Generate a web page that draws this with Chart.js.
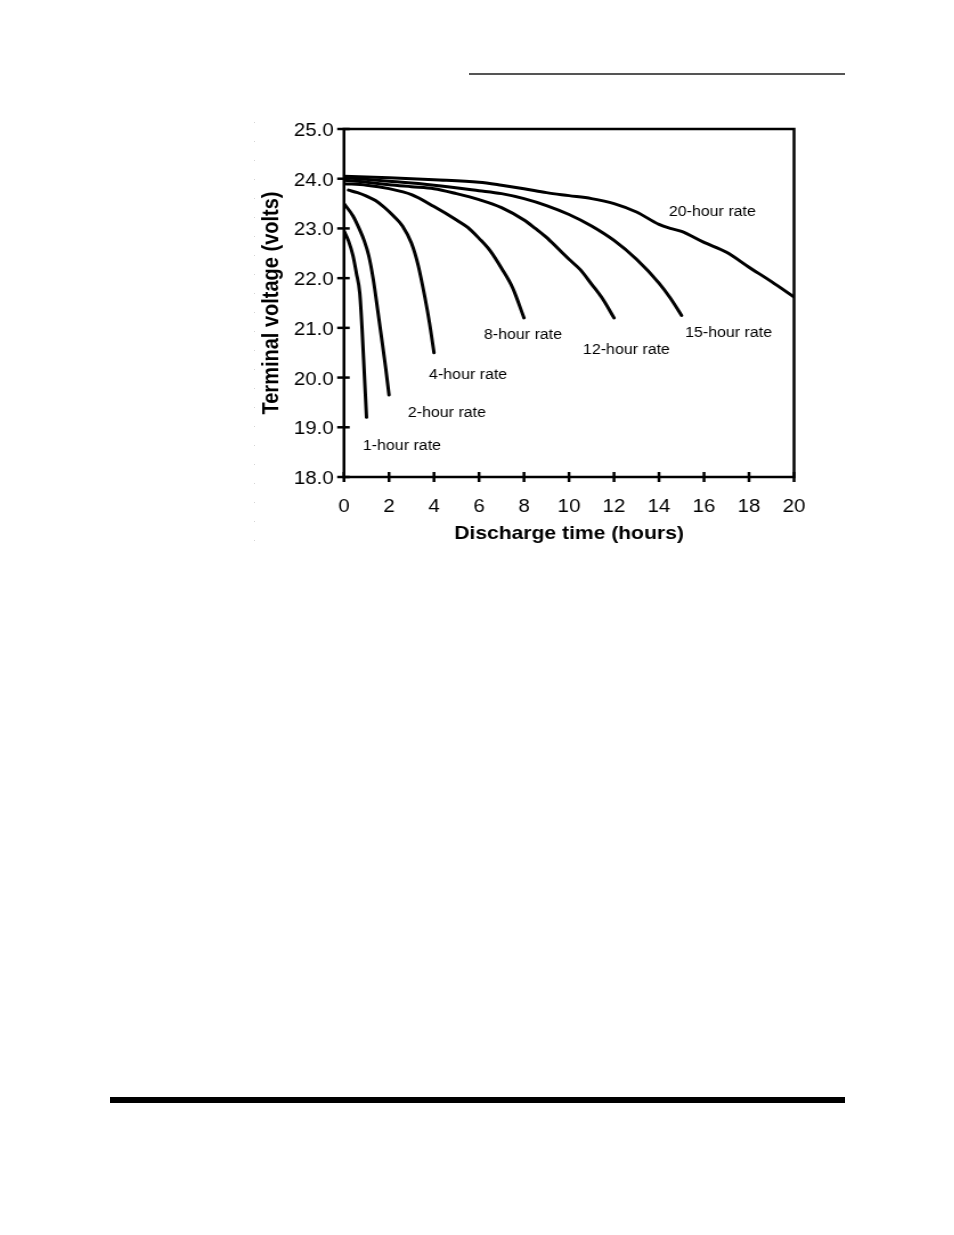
<!DOCTYPE html>
<html>
<head>
<meta charset="utf-8">
<script src="https://cdn.jsdelivr.net/npm/chart.js@4.4.0/dist/chart.umd.min.js"></script>
<style>
  html, body { margin:0; padding:0; background:#fff; width:954px; height:1235px; overflow:hidden; }
  #wrap { position:absolute; left:0; top:0; width:837px; height:560px; transform:scaleX(1.14); transform-origin:0 0; }
  #topRule { position:absolute; left:469px; top:73px; width:376px; height:2px; background:#555; }
  #bottomRule { position:absolute; left:110px; top:1097px; width:735px; height:6px; background:#000; }
  #dots { position:absolute; left:254px; top:122px; width:1px; height:424px;
          background:repeating-linear-gradient(to bottom,#d4d4d4 0,#d4d4d4 1px,transparent 1px,transparent 19px); }
</style>
</head>
<body>
<div id="topRule"></div>
<div id="dots"></div>
<div id="wrap"><canvas id="c"></canvas></div>
<div id="bottomRule"></div>
<script>
// ---- data (hours, volts) ----
const t1  = [0, 0.2, 0.4, 0.55, 0.7, 0.8, 0.9, 1.0];
const v1  = [22.95, 22.75, 22.45, 22.1, 21.7, 21.0, 20.1, 19.2];

const t2  = [0, 0.4, 0.7, 0.9, 1.1, 1.3, 1.5, 1.7, 1.85, 2.0];
const v2  = [23.5, 23.25, 22.97, 22.75, 22.45, 21.98, 21.35, 20.7, 20.2, 19.65];

const t4  = [0.2, 0.6, 1.0, 1.4, 1.8, 2.2, 2.6, 3.0, 3.3, 3.6, 3.8, 4.0];
const v4  = [23.77, 23.72, 23.65, 23.56, 23.42, 23.25, 23.05, 22.7, 22.25, 21.6, 21.1, 20.5];

const t8  = [0, 1, 2, 3, 4, 5, 5.5, 6, 6.5, 7, 7.5, 8];
const v8  = [23.9, 23.87, 23.8, 23.68, 23.44, 23.17, 23.02, 22.8, 22.55, 22.2, 21.8, 21.2];

const t12 = [0, 1, 2, 3, 4, 5, 6, 7, 8, 8.5, 9, 9.5, 10, 10.5, 11, 11.5, 12];
const v12 = [23.97, 23.93, 23.88, 23.84, 23.8, 23.7, 23.58, 23.42, 23.17, 23.0, 22.82, 22.6, 22.38, 22.17, 21.88, 21.58, 21.2];

const t15 = [0, 2, 4, 6, 7, 8, 9, 10, 11, 12, 13, 14, 14.5, 15];
const v15 = [24.02, 23.95, 23.87, 23.76, 23.7, 23.6, 23.46, 23.28, 23.05, 22.76, 22.38, 21.9, 21.6, 21.25];

const t20 = [0, 2, 4, 6, 7, 8, 9, 10, 11, 12, 13, 14, 14.5, 15, 16, 17, 18, 19, 20];
const v20 = [24.05, 24.02, 23.98, 23.93, 23.87, 23.8, 23.72, 23.66, 23.6, 23.5, 23.33, 23.08, 23.0, 22.94, 22.72, 22.52, 22.22, 21.93, 21.62];

const seriesNames = ['1-hour rate', '2-hour rate', '4-hour rate', '8-hour rate', '12-hour rate', '15-hour rate', '20-hour rate'];
// label anchor (left edge) in data units
const labelX = [0.84, 2.84, 3.78, 6.22, 10.62, 15.16, 14.44];
const labelY = [18.62, 19.29, 20.05, 20.86, 20.55, 20.9, 23.33];

const xTickValues = [0, 2, 4, 6, 8, 10, 12, 14, 16, 18, 20];
const xTickLabels = ['0', '2', '4', '6', '8', '10', '12', '14', '16', '18', '20'];
const yTickValues = [18, 19, 20, 21, 22, 23, 24, 25];
const yTickLabels = ['18.0', '19.0', '20.0', '21.0', '22.0', '23.0', '24.0', '25.0'];

const FONT = "'Liberation Sans', Arial, Helvetica, sans-serif";

const times = [t1, t2, t4, t8, t12, t15, t20];
const volts = [v1, v2, v4, v8, v12, v15, v20];

const datasets = times.map((ts, k) => ({
  label: seriesNames[k],
  data: ts.map((t, i) => ({ x: t, y: volts[k][i] })),
  borderColor: '#000',
  borderWidth: 3,
  pointRadius: 0,
  fill: false,
  cubicInterpolationMode: 'monotone',
  borderCapStyle: 'round'
}));

const framePlugin = {
  id: 'frame',
  afterDatasetsDraw(chart) {
    const { ctx, chartArea: a, scales: { x, y } } = chart;
    ctx.save();
    ctx.strokeStyle = '#000';
    ctx.lineWidth = 2.5;
    ctx.strokeRect(a.left, a.top, a.right - a.left, a.bottom - a.top);
    xTickValues.forEach(v => {
      const px = x.getPixelForValue(v);
      ctx.beginPath(); ctx.moveTo(px, a.bottom - 5); ctx.lineTo(px, a.bottom + 5); ctx.stroke();
    });
    yTickValues.forEach(v => {
      const py = y.getPixelForValue(v);
      ctx.beginPath(); ctx.moveTo(a.left - 6, py); ctx.lineTo(a.left + 5, py); ctx.stroke();
    });
    ctx.fillStyle = '#000';
    ctx.font = '14px ' + FONT;
    ctx.textAlign = 'left';
    ctx.textBaseline = 'middle';
    seriesNames.forEach((s, i) => {
      ctx.fillText(s, x.getPixelForValue(labelX[i]), y.getPixelForValue(labelY[i]));
    });
    ctx.restore();
  }
};

new Chart(document.getElementById('c'), {
  type: 'line',
  data: { datasets },
  plugins: [framePlugin],
  options: {
    responsive: true,
    maintainAspectRatio: false,
    animation: false,
    layout: { padding: { left: 220, right: 140.5, top: 129, bottom: 0 } },
    plugins: { legend: { display: false }, tooltip: { enabled: false } },
    scales: {
      x: {
        type: 'linear', min: 0, max: 20,
        afterBuildTicks(s) { s.ticks = xTickValues.map(v => ({ value: v })); },
        afterFit(s) { s.height = 83; },
        ticks: { padding: 19, color: '#000', font: { family: FONT, size: 18 },
                 callback: (v, i) => xTickLabels[i] },
        grid: { display: false, drawTicks: false },
        border: { display: false },
        title: { display: true, text: 'Discharge time (hours)', color: '#000',
                 font: { family: FONT, size: 18.5, weight: 'bold' }, padding: { top: 0, bottom: 15 } }
      },
      y: {
        type: 'linear', min: 18, max: 25,
        afterBuildTicks(s) { s.ticks = yTickValues.map(v => ({ value: v })); },
        afterFit(s) { s.width = 81.75; },
        ticks: { padding: 9, labelOffset: 2, color: '#000', font: { family: FONT, size: 18 },
                 callback: (v, i) => yTickLabels[i] },
        grid: { display: false, drawTicks: false },
        border: { display: false },
        title: { display: true, text: 'Terminal voltage (volts)', color: '#000',
                 font: { family: FONT, size: 20, weight: 'bold' }, padding: { top: 6, bottom: 0 } }
      }
    }
  }
});
</script>
</body>
</html>
